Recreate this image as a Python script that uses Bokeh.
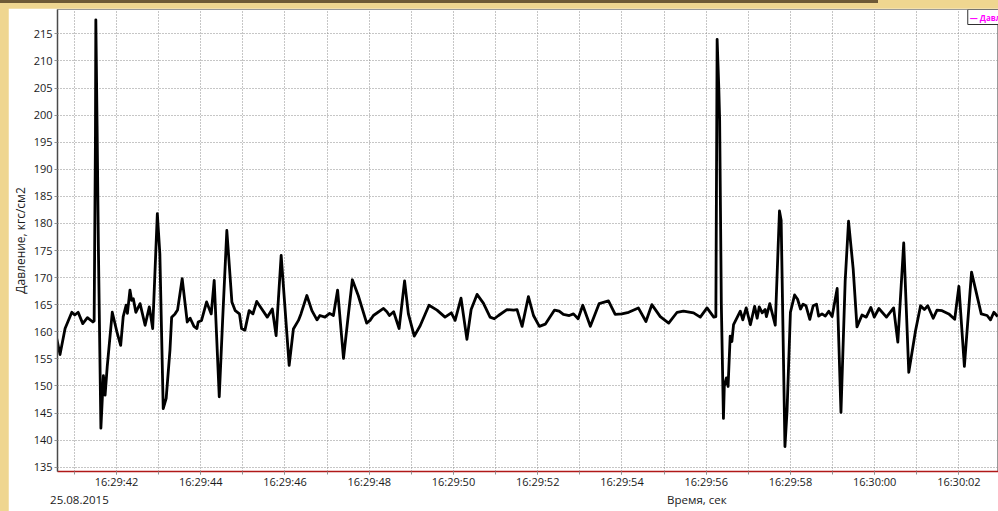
import datetime as dt
from bokeh.plotting import figure
from bokeh.models import FixedTicker, DatetimeTickFormatter, Label, Range1d, LinearAxis
from bokeh.embed import file_html
from bokeh.resources import INLINE

# ---- data -------------------------------------------------------------
date_text = "25.08.2015"
x_title = "Время, сек"
y_title = "Давление, кгс/см2"
legend_text = "— Давление"

# seconds after 16:29:40
seconds = [
    0.58, 0.66, 0.78, 0.94, 1.01, 1.09, 1.20, 1.31, 1.44, 1.47, 1.50, 1.51, 1.54, 1.57,
    1.63, 1.69, 1.73, 1.78, 1.90, 2.01, 2.10, 2.16, 2.23, 2.26, 2.32, 2.36, 2.40, 2.46,
    2.56, 2.68, 2.78, 2.86, 2.97, 3.03, 3.11, 3.18, 3.27, 3.31, 3.39, 3.45, 3.56, 3.68,
    3.75, 3.84, 3.91, 3.94, 4.02, 4.14, 4.25, 4.32, 4.44, 4.52, 4.62, 4.74, 4.82, 4.92,
    4.97, 5.05, 5.15, 5.24, 5.33, 5.45, 5.58, 5.70, 5.79, 5.91, 6.10, 6.20, 6.32, 6.38,
    6.52, 6.64, 6.76, 6.83, 6.95, 7.06, 7.15, 7.25, 7.39, 7.49, 7.60, 7.74, 7.94, 8.02,
    8.10, 8.34, 8.42, 8.48, 8.58, 8.71, 8.84, 8.93, 9.07, 9.21, 9.42, 9.61, 9.80, 9.95,
    10.04, 10.18, 10.32, 10.42, 10.56, 10.71, 10.87, 10.97, 11.07, 11.27, 11.43, 11.51,
    11.63, 11.78, 11.90, 12.04, 12.18, 12.40, 12.51, 12.61, 12.75, 12.85, 12.96, 13.07,
    13.25, 13.46, 13.68, 13.84, 14.00, 14.16, 14.39, 14.57, 14.71, 14.91, 15.11, 15.31,
    15.46, 15.70, 15.86, 16.02, 16.18, 16.23, 16.26, 16.30, 16.32, 16.36, 16.41, 16.43,
    16.48, 16.52, 16.57, 16.61, 16.65, 16.81, 16.87, 16.95, 17.05, 17.15, 17.21, 17.26,
    17.33, 17.40, 17.43, 17.51, 17.64, 17.74, 17.78, 17.87, 17.92, 18.00, 18.10, 18.17,
    18.24, 18.30, 18.37, 18.46, 18.54, 18.62, 18.67, 18.75, 18.83, 18.91, 18.99, 19.11,
    19.20, 19.30, 19.38, 19.49, 19.58, 19.70, 19.80, 19.91, 19.99, 20.10, 20.28, 20.45,
    20.55, 20.69, 20.81, 20.97, 21.09, 21.18, 21.26, 21.39, 21.48, 21.60, 21.76, 21.90,
    22.00, 22.13, 22.30, 22.53, 22.67, 22.75, 22.83, 22.92,
]
pressure = [
    158.8, 155.8, 160.6, 163.6, 163.1, 163.6, 161.5, 162.6, 161.8, 162.0, 195.0, 217.6, 198.0, 176.0,
    142.2, 151.9, 148.3, 153.5, 163.6, 160.0, 157.5, 162.8, 164.9, 163.4, 167.7, 165.8, 166.1, 163.6,
    165.2, 161.2, 164.6, 160.6, 181.8, 174.4, 145.8, 147.7, 156.6, 162.7, 163.3, 164.0, 169.8, 161.8,
    162.5, 161.0, 160.6, 161.8, 162.1, 165.5, 163.3, 169.5, 148.0, 162.1, 178.7, 165.5, 163.9, 163.3,
    160.6, 160.3, 163.9, 163.3, 165.6, 164.2, 162.7, 164.2, 159.3, 174.1, 153.8, 160.5, 162.1, 163.3,
    166.7, 163.9, 162.2, 163.0, 162.7, 163.4, 163.0, 167.7, 155.1, 162.1, 169.6, 166.7, 161.6, 162.1,
    163.0, 164.3, 163.7, 163.0, 163.7, 160.6, 169.4, 163.3, 159.2, 161.1, 164.9, 164.0, 162.7, 163.5,
    162.1, 166.2, 158.6, 164.1, 166.9, 165.3, 162.7, 162.4, 163.0, 164.1, 164.0, 164.1,
    161.0, 166.5, 163.0, 161.0, 161.4, 164.0, 163.8, 163.2, 163.0, 163.3, 162.4, 164.9,
    161.0, 165.2, 165.7, 163.2, 163.3, 163.6, 164.4, 161.9, 165.0, 162.8, 161.6, 163.6,
    163.8, 163.5, 162.7, 164.4, 162.7, 162.8, 214.0, 205.0, 199.0, 165.0, 144.0, 149.9,
    151.5, 149.9, 159.2, 158.2, 161.3, 163.8, 162.2, 164.4, 161.3, 164.7, 162.5, 164.6,
    163.5, 164.1, 162.8, 165.2, 161.2, 182.3, 180.6, 138.8, 145.4, 163.6, 166.8, 166.0,
    164.2, 165.1, 164.8, 162.3, 164.8, 165.1, 162.9, 163.3, 162.9, 163.8, 162.8, 168.0,
    145.1, 169.4, 180.4, 171.6, 160.9, 163.1, 162.7, 164.5, 162.7, 164.3, 162.7, 164.4,
    158.1, 176.4, 152.5, 160.2, 164.8, 164.1, 164.8, 162.5, 164.0, 163.9, 163.3, 162.3,
    168.4, 153.6, 171.0, 163.3, 163.0, 162.2, 163.6, 162.8,
]
y_ticks = list(range(135, 216, 5))
label_seconds = list(range(2, 23, 2))     # 16:29:42 ... 16:30:02
grid_seconds = list(range(1, 24))          # every second
date_pos = 1.12        # centre of the date text, seconds after 16:29:40
title_pos = 15.78      # centre of the x title, seconds after 16:29:40

# ---- helpers ----------------------------------------------------------
start = dt.datetime(2015, 8, 25, 16, 29, 40)
epoch = dt.datetime(1970, 1, 1)


def ms(sec):
    return int(round(((start - epoch).total_seconds() + sec) * 1000.0))


xs = [ms(s) for s in seconds]

FONT = "Open Sans"
TXT = "#1a1a1a"

p = figure(width=990, height=503, x_axis_type="datetime",
           output_backend="svg", toolbar_location=None,
           x_range=Range1d(ms(0.60), ms(22.94)),
           y_range=Range1d(134.2, 219.5),
           min_border_left=49, min_border_right=0,
           min_border_top=1, min_border_bottom=40)

p.background_fill_color = "white"
p.border_fill_color = "white"
p.outline_line_color = "#9a9a9a"
p.outline_line_width = 1

p.line(xs, pressure, line_color="black", line_width=2.8, line_join="round")

# x axis (time)
xa = p.xaxis[0]
xa.ticker = FixedTicker(ticks=[ms(s) for s in label_seconds],
                        minor_ticks=[ms(s) for s in grid_seconds])
fmt = "%H:%M:%S"
xa.formatter = DatetimeTickFormatter(milliseconds=fmt, seconds=fmt, minsec=fmt,
                                     minutes=fmt, hourmin=fmt, hours=fmt,
                                     days=fmt, months=fmt, years=fmt)
xa.axis_line_color = "#b01818"
xa.axis_line_width = 1.5
xa.major_tick_out = 3
xa.major_tick_in = 0
xa.minor_tick_out = 3
xa.minor_tick_in = 0
xa.major_tick_line_color = "#909090"
xa.minor_tick_line_color = "#909090"
xa.major_label_standoff = -1
xa.major_label_text_font = FONT
xa.major_label_text_font_size = "11px"
xa.major_label_text_color = TXT

# second row under the axis: date and axis title
info_axis = LinearAxis(ticker=FixedTicker(ticks=[ms(date_pos), ms(title_pos)], minor_ticks=[]),
                       major_label_overrides={ms(date_pos): date_text, ms(title_pos): x_title})
info_axis.axis_line_color = None
info_axis.major_tick_line_color = None
info_axis.minor_tick_line_color = None
info_axis.major_tick_out = 0
info_axis.major_tick_in = 0
info_axis.major_label_standoff = 0
info_axis.major_label_text_font = FONT
info_axis.major_label_text_font_size = "11.5px"
info_axis.major_label_text_color = TXT
p.add_layout(info_axis, "below")

# y axis
ya = p.yaxis[0]
ya.ticker = FixedTicker(ticks=y_ticks)
ya.axis_line_color = "#4a4a4a"
ya.axis_line_width = 1.5
ya.major_tick_out = 3
ya.major_tick_in = 0
ya.minor_tick_out = 0
ya.minor_tick_in = 0
ya.major_tick_line_color = "#909090"
ya.major_label_standoff = 2
ya.major_label_text_font = FONT
ya.major_label_text_font_size = "11px"
ya.major_label_text_color = TXT
ya.axis_label = y_title
ya.axis_label_text_font = FONT
ya.axis_label_text_font_size = "12px"
ya.axis_label_text_font_style = "normal"
ya.axis_label_text_color = TXT
ya.axis_label_standoff = 2

# grids (dotted, every second / every 5 units)
p.xgrid.ticker = FixedTicker(ticks=[ms(s) for s in grid_seconds])
p.ygrid.ticker = FixedTicker(ticks=y_ticks)
for g in (p.xgrid, p.ygrid):
    g.grid_line_color = "#8c8c8c"
    g.grid_line_dash = "1 2"
    g.grid_line_width = 1

# legend box (cut by the right edge as in the source)
p.add_layout(Label(x=ms(22.21), y=219.5, text=legend_text, text_font=FONT,
                   text_font_size="8px", text_font_style="bold", text_color="#ff00ff",
                   text_align="left", text_baseline="top",
                   background_fill_color="white", border_line_color="#303030",
                   border_line_width=1, padding=2))

page_style = ("<style>body{padding:8px 0 0 8px;background-color:#efd690;"
              "background-image:linear-gradient(#6e5a36,#6e5a36);"
              "background-size:878px 3px;background-repeat:no-repeat;}</style>")
html = file_html(p, INLINE)
html = html.replace("</head>", page_style + "</head>", 1)
open("out.html", "w").write(html)
